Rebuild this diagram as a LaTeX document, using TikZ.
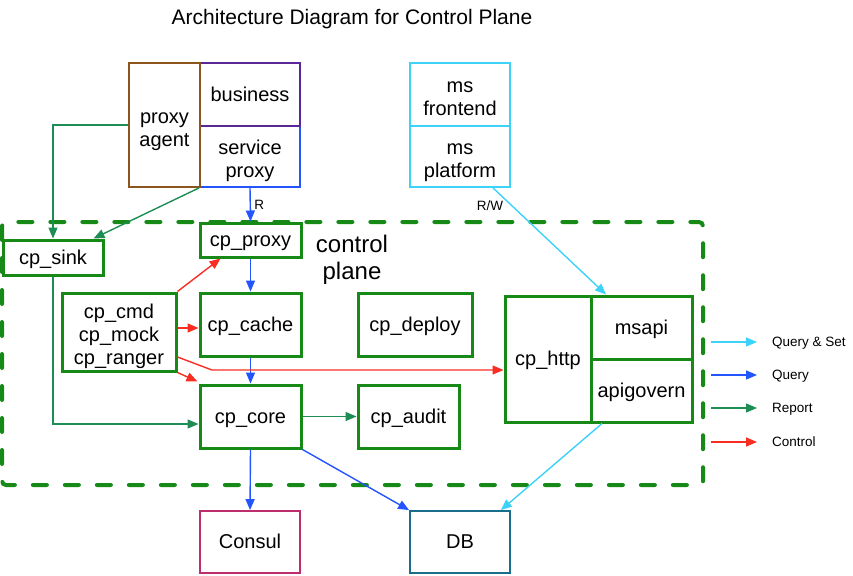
\documentclass[tikz,border=0pt]{standalone}
\usepackage{fontspec}
\setmainfont{Liberation Sans}
\usetikzlibrary{arrows.meta}
% line struts with the ascent and descent of the font
\newcommand\lineStrut{\rule[-0.212em]{0pt}{1.117em}}
\newcommand\topStrut{\rule{0pt}{1.2em}}

\begin{document}
\begin{tikzpicture}[x=1pt, y=-1pt,
    strutted/.style={execute at begin node={\lineStrut}, execute at end node={\lineStrut}},
    box/.style={draw=#1, line width=1.8pt, inner sep=0pt, align=center, strutted,
        font=\fontsize{20}{23}\selectfont},
    cpbox/.style={box=colCp, line width=3pt},
    link/.style={line width=1.4pt, -{Triangle[length=11pt,width=9pt]}},
    query/.style={link, draw=colQuery},
    queryset/.style={link, draw=colQSet},
    report/.style={link, draw=colReport},
    control/.style={link, draw=colControl},
    small/.style={font=\fontsize{13.5}{16}\selectfont, strutted}
]
    % Colours
    \definecolor{colCp}{RGB}{22,137,22}
    \definecolor{colQuery}{RGB}{35,85,255}
    \definecolor{colQSet}{RGB}{60,210,250}
    \definecolor{colReport}{RGB}{30,140,85}
    \definecolor{colControl}{RGB}{250,45,35}
    \definecolor{colAgent}{RGB}{140,85,30}
    \definecolor{colBiz}{RGB}{90,40,150}
    \definecolor{colConsul}{RGB}{190,45,110}
    \definecolor{colDb}{RGB}{25,110,140}

    \useasboundingbox (0,0) rectangle (853,575);

    % Title
    \node[strutted, inner sep=0pt] (title) at (352,19) {\fontsize{21}{25}\selectfont Architecture Diagram for Control Plane};

    % Control plane frame
    \draw[colCp, line width=4pt, dash pattern=on 14pt off 18pt, line cap=round,
        rounded corners=4pt] (2,222) rectangle (703,485);
    \node[align=center, inner sep=0pt, font=\fontsize{24}{27}\selectfont] (plane) at (352,258) {\lineStrut control\\plane\lineStrut};

    % Outside boxes
    \node[box=colQuery, minimum width=100, minimum height=61] (svcproxy) at (250,156.5) {\topStrut service\\proxy\lineStrut};
    \node[box=colBiz, minimum width=100, minimum height=63] (business) at (250,94.5) {business};
    \node[box=colAgent, minimum width=71, minimum height=124] (agent) at (164.5,125) {\topStrut proxy\\agent\lineStrut};
    \node[box=colQSet, minimum width=100, minimum height=63] (msfront) at (460,94.5) {\topStrut ms\\frontend\lineStrut};
    \node[box=colQSet, minimum width=100, minimum height=61] (msplat) at (460,156.5) {\topStrut ms\\platform\lineStrut};
    \node[box=colConsul, minimum width=100, minimum height=62] (consul) at (250,542) {Consul};
    \node[box=colDb, minimum width=100, minimum height=62] (db) at (460,542) {DB};

    % Control plane boxes
    \node[cpbox, minimum width=100, minimum height=35] (sink) at (53,257.5) {cp\_sink};
    \node[cpbox, minimum width=101, minimum height=34] (proxy) at (250.5,240) {cp\_proxy};
    \node[cpbox, minimum width=114, minimum height=78] (cmd) at (119,332) {\topStrut cp\_cmd\\cp\_mock\\cp\_ranger\lineStrut};
    \node[cpbox, minimum width=101, minimum height=63] (cache) at (250.5,324.5) {cp\_cache};
    \node[cpbox, minimum width=114, minimum height=63] (deploy) at (415,324.5) {cp\_deploy};
    \node[cpbox, minimum width=101, minimum height=63] (core) at (250.5,416.5) {cp\_core};
    \node[cpbox, minimum width=101, minimum height=63] (audit) at (408.5,416.5) {cp\_audit};
    \node[cpbox, minimum width=86, minimum height=126] (http) at (548,359) {cp\_http};
    \node[cpbox, minimum width=101, minimum height=63] (msapi) at (641.5,327.5) {msapi};
    \node[cpbox, minimum width=101, minimum height=63] (apigov) at (641.5,390.5) {apigovern};

    % Report
    \draw[report] (agent.west) -| (sink.north);
    \draw[report] (svcproxy.south west) -- ([xshift=-11pt]sink.north east);
    \draw[report] (sink.south) |- ([yshift=-7.5pt]core.west);
    \draw[report] (core.east) -- (audit.west);

    % Query
    \draw[query] (svcproxy.south) -- node[midway, right, small, text=black] {R} (proxy.north);
    \draw[query] (proxy.south) -- (cache.north);
    \draw[query] (cache.south) -- (core.north);
    \draw[query] (core.south) -- (consul.north);
    \draw[query] (core.south east) -- (db.north west);

    % Query & Set
    \draw[queryset] ([xshift=33pt]msplat.south) -- node[pos=0.17, left=5pt, small, text=black] {R/W}
        ([xshift=-35.5pt]msapi.north);
    \draw[queryset] ([xshift=-39.5pt]apigov.south) -- ([xshift=-10pt]db.north east);

    % Control
    \coordinate (bend) at (212,370);
    \draw[control] (cmd.north east) -- ([xshift=22pt]proxy.south west);
    \draw[control] ([yshift=4pt]cmd.east) -- ([yshift=4pt]cmd.east -| cache.west);
    \draw[control] (cmd.south east) -- ([xshift=-1pt,yshift=2pt]core.north west);
    \draw[control] ([yshift=-25pt]cmd.east) -- (bend) -- (bend -| http.west);

    % Legend
    \node[small, anchor=west, inner sep=0pt] (lgQSet) at (772,342) {Query \& Set};
    \node[small, anchor=west, inner sep=0pt] (lgQuery) at (772,375) {Query};
    \node[small, anchor=west, inner sep=0pt] (lgReport) at (772,408) {Report};
    \node[small, anchor=west, inner sep=0pt] (lgControl) at (772,442) {Control};
    \coordinate (lgA) at (711,342);
    \coordinate (lgB) at (711,375);
    \coordinate (lgC) at (711,408);
    \coordinate (lgD) at (711,442);
    \draw[queryset] (lgA) -- ([xshift=-15pt]lgQSet.west);
    \draw[query] (lgB) -- ([xshift=-15pt]lgQuery.west);
    \draw[report] (lgC) -- ([xshift=-15pt]lgReport.west);
    \draw[control] (lgD) -- ([xshift=-15pt]lgControl.west);

\end{tikzpicture}
\end{document}
